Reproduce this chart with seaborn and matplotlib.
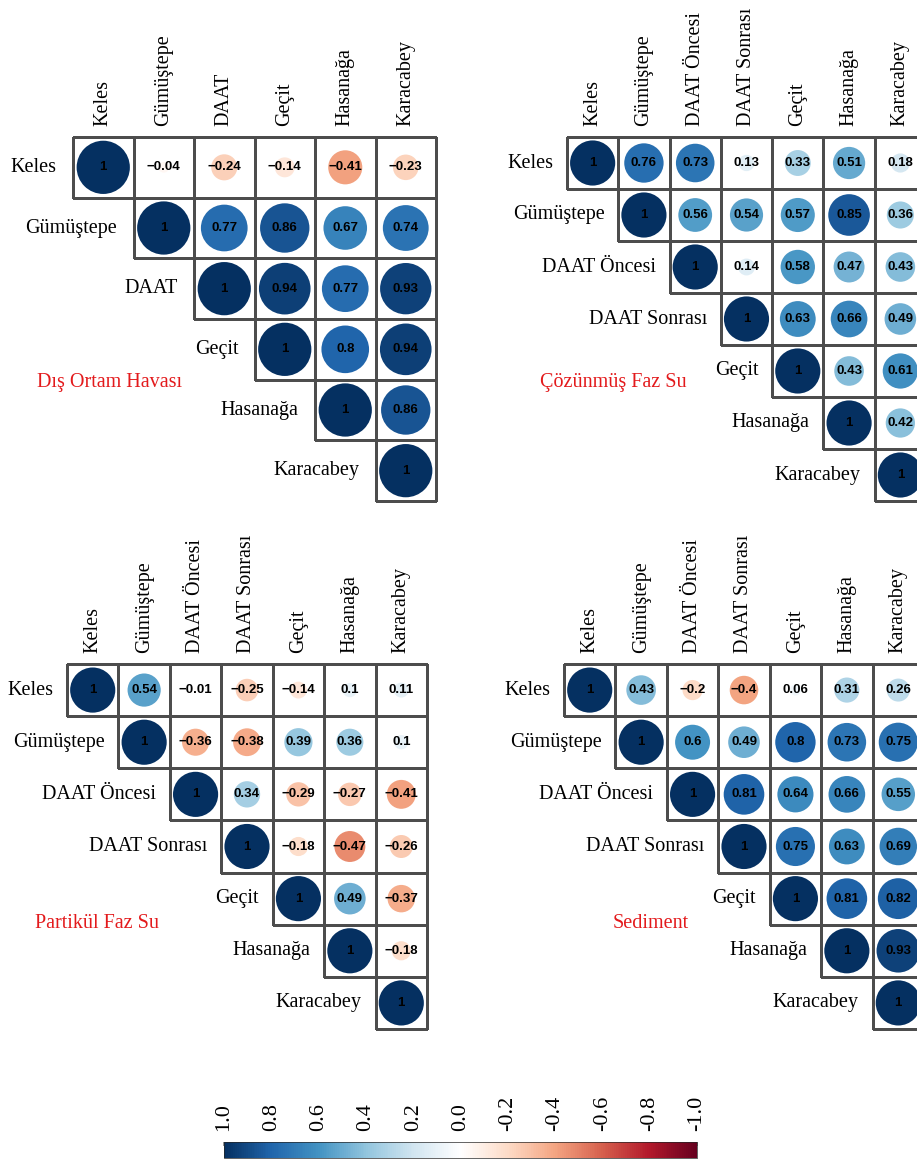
import numpy as np
import pandas as pd
import seaborn as sns
import matplotlib.pyplot as plt
from matplotlib.colors import ListedColormap, Normalize, to_rgba
from matplotlib.cm import ScalarMappable

sns.set_theme(style='white', rc={'text.color': 'black', 'xtick.color': 'black',
                                 'axes.labelcolor': 'black'})
plt.rcParams['font.family'] = ['Liberation Serif', 'DejaVu Serif']

# station names
vars_hava = ['Keles', 'Gümüştepe', 'DAAT', 'Geçit', 'Hasanağa', 'Karacabey']
vars_su = ['Keles', 'Gümüştepe', 'DAAT Öncesi', 'DAAT Sonrası', 'Geçit', 'Hasanağa', 'Karacabey']

# upper triangle rows (diagonal first)
hava_rows = [
    [1, -0.04, -0.24, -0.14, -0.41, -0.23],
    [1, 0.77, 0.86, 0.67, 0.74],
    [1, 0.94, 0.77, 0.93],
    [1, 0.8, 0.94],
    [1, 0.86],
    [1],
]
cozunmus_rows = [
    [1, 0.76, 0.73, 0.13, 0.33, 0.51, 0.18],
    [1, 0.56, 0.54, 0.57, 0.85, 0.36],
    [1, 0.14, 0.58, 0.47, 0.43],
    [1, 0.63, 0.66, 0.49],
    [1, 0.43, 0.61],
    [1, 0.42],
    [1],
]
partikul_rows = [
    [1, 0.54, -0.01, -0.25, -0.14, 0.1, 0.11],
    [1, -0.36, -0.38, 0.39, 0.36, 0.1],
    [1, 0.34, -0.29, -0.27, -0.41],
    [1, -0.18, -0.47, -0.26],
    [1, 0.49, -0.37],
    [1, -0.18],
    [1],
]
sediment_rows = [
    [1, 0.43, -0.2, -0.4, 0.06, 0.31, 0.26],
    [1, 0.6, 0.49, 0.8, 0.73, 0.75],
    [1, 0.81, 0.64, 0.66, 0.55],
    [1, 0.75, 0.63, 0.69],
    [1, 0.81, 0.82],
    [1, 0.93],
    [1],
]

titles = ['Dış Ortam Havası', 'Çözünmüş Faz Su', 'Partikül Faz Su', 'Sediment']

# corrplot RdBu
rdbu = ['#67001F', '#B2182B', '#D6604D', '#F4A582', '#FDDBC7', '#FFFFFF',
        '#D1E5F0', '#92C5DE', '#4393C3', '#2166AC', '#053061']
cmap = sns.blend_palette(rdbu, n_colors=200, as_cmap=True)

W, H = 917, 1160
fig = plt.figure(figsize=(W / 100, H / 100), dpi=100)


def fmt(v):
    return f'{v:g}'.replace('-', '\u2212')


def corr_panel(rect, names, rows, title, title_xy, smax):
    n = len(names)
    mat = np.full((n, n), np.nan)
    for i, r in enumerate(rows):
        mat[i, i:] = r
    mask = np.tril(np.ones((n, n), dtype=bool), -1)
    labels = np.array([[fmt(v) if not np.isnan(v) else '' for v in row] for row in mat])

    ax = fig.add_axes(rect)
    sns.heatmap(np.zeros((n, n)), mask=mask, cmap=ListedColormap(['white']), cbar=False,
                linewidths=0.8, linecolor='#4d4d4d', annot=labels, fmt='',
                annot_kws={'fontsize': 9.5, 'fontweight': 'bold', 'color': 'black',
                           'family': 'Liberation Sans'},
                xticklabels=names, yticklabels=False, ax=ax)
    # hide borders of the masked (lower) cells
    mesh = ax.collections[0]
    ec = np.array([to_rgba('#4d4d4d', 0.0 if m else 1.0) for m in mask.ravel()])
    mesh.set_edgecolor(ec)
    mesh.set_clip_on(False)

    df = pd.DataFrame([(j + 0.5, i + 0.5, mat[i, j], abs(mat[i, j]))
                       for i in range(n) for j in range(i, n)],
                      columns=['x', 'y', 'r', 'a'])
    sns.scatterplot(data=df, x='x', y='y', hue='r', size='a', palette=cmap,
                    hue_norm=(-1, 1), sizes=(0, smax), size_norm=(0, 1),
                    linewidth=0, legend=False, ax=ax, zorder=2)
    ax.set_xlim(0, n)
    ax.set_ylim(n, 0)
    ax.set_xlabel('')
    ax.set_ylabel('')

    ax.xaxis.tick_top()
    ax.set_xticks(np.arange(n) + 0.5)
    ax.set_xticklabels(names, rotation=90, fontsize=14.5)
    ax.tick_params(axis='x', length=0, pad=8)
    for i, name in enumerate(names):
        ax.text(i - 0.27, i + 0.5, name, ha='right', va='center', fontsize=14.5)

    fig.text(title_xy[0] / W, 1 - title_xy[1] / H, title, color='#E31A1C',
             fontsize=14.5, ha='left', va='center')


cell_big = 60.5 * 0.72 * 0.88
cell_small = 51.3 * 0.72 * 0.88

corr_panel([73 / W, 1 - 501 / H, 363 / W, 364 / H], vars_hava, hava_rows,
           titles[0], (37, 383), cell_big ** 2)
corr_panel([567 / W, 1 - 501 / H, 359 / W, 364 / H], vars_su, cozunmus_rows,
           titles[1], (540, 383), cell_small ** 2)
corr_panel([67 / W, 1 - 1029 / H, 360 / W, 365 / H], vars_su, partikul_rows,
           titles[2], (35, 924), cell_small ** 2)
corr_panel([564 / W, 1 - 1029 / H, 360 / W, 365 / H], vars_su, sediment_rows,
           titles[3], (613, 924), cell_small ** 2)

# colour bar
cb_ticks = [1.0, 0.8, 0.6, 0.4, 0.2, 0.0, -0.2, -0.4, -0.6, -0.8, -1.0]
cax = fig.add_axes([224 / W, 1 - 1158 / H, 473 / W, 16 / H])
cb = fig.colorbar(ScalarMappable(norm=Normalize(-1, 1), cmap=cmap), cax=cax,
                  orientation='horizontal', ticks=cb_ticks)
cb.outline.set_linewidth(0.5)
cax.invert_xaxis()
cax.xaxis.set_ticks_position('top')
cax.set_xticklabels([f'{t:.1f}' if t != 0 else '0.0' for t in cb_ticks],
                    rotation=90, fontsize=16)
cax.tick_params(axis='x', direction='in', length=3, color='#888888', pad=8)

fig.savefig('out.png', dpi=100)
